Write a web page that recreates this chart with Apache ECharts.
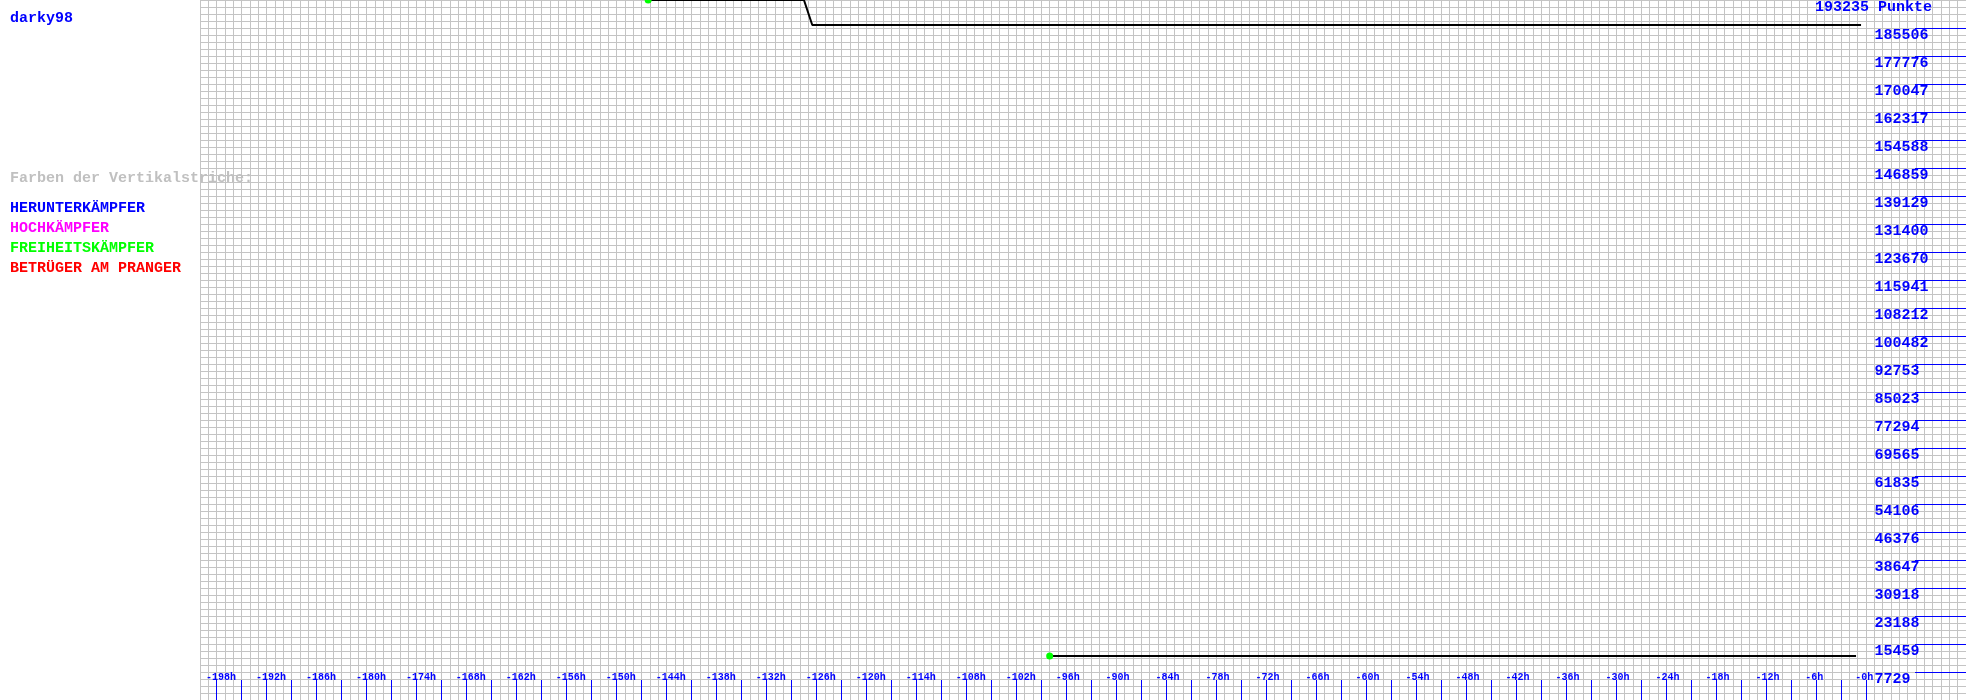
<!DOCTYPE html>
<html>
<head>
<meta charset="utf-8">
<script src="https://cdn.jsdelivr.net/npm/echarts@6/dist/echarts.min.js"></script>
<style>
html,body{margin:0;padding:0;background:#fff;}
#chart{width:1966px;height:700px;}
</style>
</head>
<body>
<div id="chart"></div>
<script>
// ---- data ----
const playerName = 'darky98';
const maxPoints = 193235;
const pointsUnit = 'Punkte';
const yTickLabels = [7729, 15459, 23188, 30918, 38647, 46376, 54106, 61835, 69565, 77294, 85023, 92753,
  100482, 108212, 115941, 123670, 131400, 139129, 146859, 154588, 162317, 170047, 177776, 185506];
const xLabelHours = [-198, -192, -186, -180, -174, -168, -162, -156, -150, -144, -138, -132, -126, -120,
  -114, -108, -102, -96, -90, -84, -78, -72, -66, -60, -54, -48, -42, -36, -30, -24, -18, -12, -6, 0];
const legendTitle = 'Farben der Vertikalstriche:';
const legendNames = ['HERUNTERKÄMPFER', 'HOCHKÄMPFER', 'FREIHEITSKÄMPFER', 'BETRÜGER AM PRANGER'];
const legendColors = ['#0000ff', '#ff00ff', '#00ff00', '#ff0000'];

const series1Hours = [-146.2, -127.5, -126.5, -0.6];
const series1Points = [193235, 193235, 186330, 186330];
const series2Hours = [-98, -1.2];
const series2Points = [12150, 12150];

// ---- chart ----
const xTickHours = [];
xLabelHours.forEach(h => { xTickHours.push(h); if (h < 0) xTickHours.push(h + 3); });
xTickHours.sort((a, b) => a - b);

const FONT = '"Liberation Mono", "DejaVu Sans Mono", monospace';
const BLUE = '#0000ff';
const GRIDC = '#c4c4c4';

function buildSeries(hours, pts) {
  return hours.map((h, i) => i === 0
    ? { value: [h, pts[i]], symbol: 'circle', symbolSize: 7, itemStyle: { color: '#00ff00' } }
    : { value: [h, pts[i]], symbol: 'none' });
}

const graphics = [
  { type: 'text', x: 10, y: 18, z: 100, style: { text: playerName, fill: BLUE, font: 'bold 15px ' + FONT, verticalAlign: 'middle' } },
  { type: 'text', x: 10, y: 178, z: 100, style: { text: legendTitle, fill: '#c0c0c0', font: 'bold 15px ' + FONT, verticalAlign: 'middle' } },
  { type: 'text', x: 1815, y: 7.5, z: 100, style: { text: maxPoints + ' ' + pointsUnit, fill: BLUE, font: 'bold 15px ' + FONT, verticalAlign: 'middle' } }
];
legendNames.forEach((n, i) => {
  graphics.push({ type: 'text', x: 10, y: 208 + i * 20.2, z: 100,
    style: { text: n, fill: legendColors[i], font: 'bold 15px ' + FONT, verticalAlign: 'middle' } });
});

const chart = echarts.init(document.getElementById('chart'), null, { renderer: 'canvas' });
chart.setOption({
  animation: false,
  backgroundColor: '#ffffff',
  grid: [
    { left: 200, right: 0, top: 0, bottom: 0, containLabel: false },
    { left: 1915, right: 0, top: 0, bottom: 0, containLabel: false }
  ],
  xAxis: [
    { type: 'value', gridIndex: 0, position: 'bottom', min: -200, max: 12, interval: 1,
      axisLine: { show: false }, axisTick: { show: false }, axisLabel: { show: false },
      splitLine: { show: true, lineStyle: { color: GRIDC, width: 1 } } },
    { type: 'value', gridIndex: 0, position: 'bottom', min: -200, max: 12, z: 5,
      axisLine: { show: false },
      axisTick: { show: true, inside: true, length: 20, customValues: xTickHours, lineStyle: { color: BLUE, width: 1 } },
      axisLabel: { show: true, inside: true, margin: 18, customValues: xLabelHours,
        formatter: v => '-' + Math.abs(v) + 'h', color: BLUE, fontSize: 10, fontWeight: 'bold', fontFamily: FONT,
        align: 'left', padding: [0, 0, 0, -10.7] },
      splitLine: { show: false } },
    { type: 'value', gridIndex: 1, min: 0, max: 1, show: false }
  ],
  yAxis: [
    { type: 'value', gridIndex: 0, position: 'left', min: 0, max: maxPoints, interval: maxPoints / 100,
      axisLine: { show: false }, axisTick: { show: false }, axisLabel: { show: false },
      splitLine: { show: true, lineStyle: { color: GRIDC, width: 1 } } },
    { type: 'value', gridIndex: 0, position: 'right', min: 0, max: maxPoints, z: 5,
      axisLine: { show: false },
      axisTick: { show: false },
      axisLabel: { show: true, inside: true, margin: 91.5, customValues: yTickLabels,
        formatter: v => String(Math.floor(v)), color: BLUE, fontSize: 15, fontWeight: 'bold', fontFamily: FONT,
        align: 'left', verticalAlign: 'top' },
      splitLine: { show: false } },
    { type: 'value', gridIndex: 1, position: 'right', min: 0, max: maxPoints, z: 5,
      interval: maxPoints / (yTickLabels.length + 1),
      axisLine: { show: false }, axisTick: { show: false }, axisLabel: { show: false },
      splitLine: { show: true, showMinLine: false, showMaxLine: false, lineStyle: { color: BLUE, width: 1 } } }
  ],
  series: [
    { type: 'line', xAxisIndex: 0, yAxisIndex: 0, data: buildSeries(series1Hours, series1Points),
      showSymbol: true, lineStyle: { color: '#000000', width: 2 }, itemStyle: { color: '#000000' }, z: 10 },
    { type: 'line', xAxisIndex: 0, yAxisIndex: 0, data: buildSeries(series2Hours, series2Points),
      showSymbol: true, lineStyle: { color: '#000000', width: 2 }, itemStyle: { color: '#000000' }, z: 10 }
  ],
  graphic: graphics
});
</script>
</body>
</html>
